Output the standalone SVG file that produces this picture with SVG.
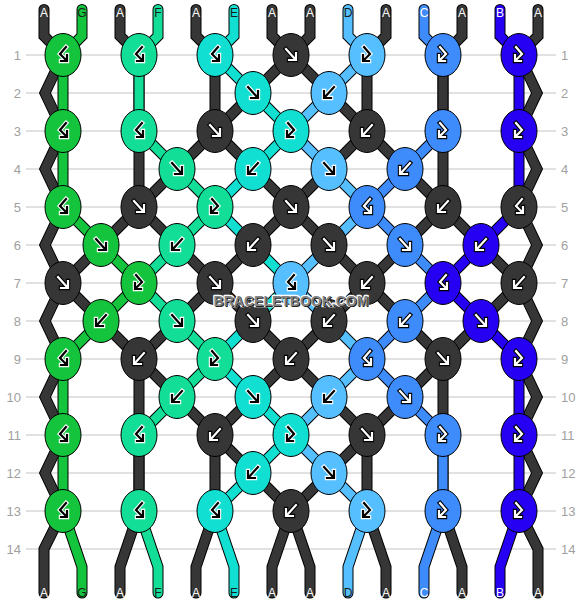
<svg xmlns="http://www.w3.org/2000/svg" xmlns:xlink="http://www.w3.org/1999/xlink" width="582" height="604" viewBox="0 0 582 604">
<style>
.grid line{stroke:#c4c4c4;stroke-width:1}
.rn{font-family:"Liberation Sans",Arial,sans-serif;font-size:13px;fill:#a0a0a0}
.rl{text-anchor:end}
.lb{font-family:"Liberation Sans",Arial,sans-serif;font-size:12px;text-anchor:middle}
.lw{fill:#fff}.lk{fill:#1a1a1a}
.str polyline{fill:none;stroke-linejoin:miter;stroke-linecap:round}
.o{stroke:#000;stroke-width:11}
.i{stroke-width:9}
.sA{stroke:#363636}.sG{stroke:#14c43c}.sF{stroke:#13de98}.sE{stroke:#11dfd1}.sD{stroke:#55bfff}.sC{stroke:#3e8cfb}.sB{stroke:#2500f2}
ellipse{stroke:#000;stroke-width:1}
.kA{fill:#363636}.kG{fill:#14c43c}.kF{fill:#13de98}.kE{fill:#11dfd1}.kD{fill:#55bfff}.kC{fill:#3e8cfb}.kB{fill:#2500f2}
.go{fill:none;stroke-width:4.4;stroke-linecap:square}
.gi{fill:none;stroke:currentColor;stroke-width:2.2;stroke-linecap:square}
.lt{stroke:#fff;color:#000}
.dk{stroke:#000;color:#fff}
.wm text{font-family:"Liberation Sans",Arial,sans-serif;font-size:14px;font-weight:bold;text-anchor:middle}
.wh{fill:#fff;stroke:#fff;stroke-width:2.5;stroke-linejoin:round}
.ws{fill:#222}
.wf{fill:#858585}
</style>
<defs>
<g id="fw"><path class="go" d="M-5,-6L4,4M5,-2V5H-2"/><path class="gi" d="M-5,-6L4,4M5,-2V5H-2"/></g>
<g id="bw"><path class="go" d="M5,-6L-4,4M-5,-2V5H2"/><path class="gi" d="M5,-6L-4,4M-5,-2V5H2"/></g>
<g id="bf"><path class="go" d="M3,-8L-3,-1L3,5M4,0V6H-2"/><path class="gi" d="M3,-8L-3,-1L3,5M4,0V6H-2"/></g>
<g id="fb"><path class="go" d="M-3,-8L3,-1L-3,5M-4,0V6H2"/><path class="gi" d="M-3,-8L3,-1L-3,5M-4,0V6H2"/></g>
</defs>
<g class="grid">
<line x1="26" y1="55" x2="556" y2="55"/><line x1="26" y1="93" x2="556" y2="93"/><line x1="26" y1="131" x2="556" y2="131"/><line x1="26" y1="169" x2="556" y2="169"/><line x1="26" y1="207" x2="556" y2="207"/><line x1="26" y1="245" x2="556" y2="245"/><line x1="26" y1="283" x2="556" y2="283"/><line x1="26" y1="321" x2="556" y2="321"/><line x1="26" y1="359" x2="556" y2="359"/><line x1="26" y1="397" x2="556" y2="397"/><line x1="26" y1="435" x2="556" y2="435"/><line x1="26" y1="473" x2="556" y2="473"/><line x1="26" y1="511" x2="556" y2="511"/><line x1="26" y1="549" x2="556" y2="549"/>
</g>
<g class="rn">
<text class="rl" x="21" y="59.5">1</text><text class="rl" x="21" y="97.5">2</text><text class="rl" x="21" y="135.5">3</text><text class="rl" x="21" y="173.5">4</text><text class="rl" x="21" y="211.5">5</text><text class="rl" x="21" y="249.5">6</text><text class="rl" x="21" y="287.5">7</text><text class="rl" x="21" y="325.5">8</text><text class="rl" x="21" y="363.5">9</text><text class="rl" x="21" y="401.5">10</text><text class="rl" x="21" y="439.5">11</text><text class="rl" x="21" y="477.5">12</text><text class="rl" x="21" y="515.5">13</text><text class="rl" x="21" y="553.5">14</text>
<text x="561" y="59.5">1</text><text x="561" y="97.5">2</text><text x="561" y="135.5">3</text><text x="561" y="173.5">4</text><text x="561" y="211.5">5</text><text x="561" y="249.5">6</text><text x="561" y="287.5">7</text><text x="561" y="325.5">8</text><text x="561" y="363.5">9</text><text x="561" y="401.5">10</text><text x="561" y="439.5">11</text><text x="561" y="477.5">12</text><text x="561" y="515.5">13</text><text x="561" y="553.5">14</text>
</g>
<g id="connectors" class="str">
<defs>
<polyline id="p0" points="44,9.5 44,36 63,55 45,93 63,131 45,169 63,207 45,245 63,283 101,321 139,359 177,397 215,435 253,473 291,511 310,567 310,593"/>
<polyline id="p1" points="82,9.5 82,36 63,55 63,207 101,245 139,283 101,321 63,359 63,511 82,567 82,593"/>
<polyline id="p2" points="120,9.5 120,36 139,55 139,207 177,245 215,283 253,321 291,359 329,397 367,435 367,511 386,567 386,593"/>
<polyline id="p3" points="158,9.5 158,36 139,55 139,131 177,169 215,207 177,245 139,283 177,321 215,359 177,397 139,435 139,511 158,567 158,593"/>
<polyline id="p4" points="196,9.5 196,36 215,55 215,131 253,169 291,207 329,245 367,283 405,321 443,359 443,511 462,567 462,593"/>
<polyline id="p5" points="234,9.5 234,36 215,55 253,93 291,131 253,169 215,207 253,245 291,283 253,321 215,359 253,397 291,435 253,473 215,511 234,567 234,593"/>
<polyline id="p6" points="272,9.5 272,36 291,55 329,93 367,131 405,169 443,207 481,245 519,283 537,321 519,359 537,397 519,435 537,473 519,511 538,549 538,593"/>
<polyline id="p7" points="310,9.5 310,36 291,55 253,93 215,131 177,169 139,207 101,245 63,283 45,321 63,359 45,397 63,435 45,473 63,511 44,549 44,593"/>
<polyline id="p8" points="348,9.5 348,36 367,55 329,93 291,131 329,169 367,207 329,245 291,283 329,321 367,359 329,397 291,435 329,473 367,511 348,567 348,593"/>
<polyline id="p9" points="386,9.5 386,36 367,55 367,131 329,169 291,207 253,245 215,283 177,321 139,359 139,511 120,567 120,593"/>
<polyline id="p10" points="424,9.5 424,36 443,55 443,131 405,169 367,207 405,245 443,283 405,321 367,359 405,397 443,435 443,511 424,567 424,593"/>
<polyline id="p11" points="462,9.5 462,36 443,55 443,207 405,245 367,283 329,321 291,359 253,397 215,435 215,511 196,567 196,593"/>
<polyline id="p12" points="500,9.5 500,36 519,55 519,207 481,245 443,283 481,321 519,359 519,511 500,567 500,593"/>
<polyline id="p13" points="538,9.5 538,36 519,55 537,93 519,131 537,169 519,207 537,245 519,283 481,321 443,359 405,397 367,435 329,473 291,511 272,567 272,593"/>
</defs>
<use xlink:href="#p0" class="o"/><use xlink:href="#p0" class="i sA"/>
<use xlink:href="#p1" class="o"/><use xlink:href="#p1" class="i sG"/>
<use xlink:href="#p2" class="o"/><use xlink:href="#p2" class="i sA"/>
<use xlink:href="#p3" class="o"/><use xlink:href="#p3" class="i sF"/>
<use xlink:href="#p4" class="o"/><use xlink:href="#p4" class="i sA"/>
<use xlink:href="#p5" class="o"/><use xlink:href="#p5" class="i sE"/>
<use xlink:href="#p6" class="o"/><use xlink:href="#p6" class="i sA"/>
<use xlink:href="#p7" class="o"/><use xlink:href="#p7" class="i sA"/>
<use xlink:href="#p8" class="o"/><use xlink:href="#p8" class="i sD"/>
<use xlink:href="#p9" class="o"/><use xlink:href="#p9" class="i sA"/>
<use xlink:href="#p10" class="o"/><use xlink:href="#p10" class="i sC"/>
<use xlink:href="#p11" class="o"/><use xlink:href="#p11" class="i sA"/>
<use xlink:href="#p12" class="o"/><use xlink:href="#p12" class="i sB"/>
<use xlink:href="#p13" class="o"/><use xlink:href="#p13" class="i sA"/>
</g>
<g class="lb">
<text class="lw" x="44" y="17">A</text><text class="lk" x="82" y="17">G</text><text class="lw" x="120" y="17">A</text><text class="lk" x="158" y="17">F</text><text class="lw" x="196" y="17">A</text><text class="lk" x="234" y="17">E</text><text class="lw" x="272" y="17">A</text><text class="lw" x="310" y="17">A</text><text class="lk" x="348" y="17">D</text><text class="lw" x="386" y="17">A</text><text class="lw" x="424" y="17">C</text><text class="lw" x="462" y="17">A</text><text class="lw" x="500" y="17">B</text><text class="lw" x="538" y="17">A</text>
<text class="lw" x="44" y="597">A</text><text class="lk" x="82" y="597">G</text><text class="lw" x="120" y="597">A</text><text class="lk" x="158" y="597">F</text><text class="lw" x="196" y="597">A</text><text class="lk" x="234" y="597">E</text><text class="lw" x="272" y="597">A</text><text class="lw" x="310" y="597">A</text><text class="lk" x="348" y="597">D</text><text class="lw" x="386" y="597">A</text><text class="lw" x="424" y="597">C</text><text class="lw" x="462" y="597">A</text><text class="lw" x="500" y="597">B</text><text class="lw" x="538" y="597">A</text>
</g>
<g id="knots">
<g id="k1-1" transform="translate(63,55)"><ellipse class="kG" rx="18" ry="21.5"/><use xlink:href="#bf" class="lt"/></g>
<g id="k1-2" transform="translate(139,55)"><ellipse class="kF" rx="18" ry="21.5"/><use xlink:href="#bf" class="lt"/></g>
<g id="k1-3" transform="translate(215,55)"><ellipse class="kE" rx="18" ry="21.5"/><use xlink:href="#bf" class="lt"/></g>
<g id="k1-4" transform="translate(291,55)"><ellipse class="kA" rx="18" ry="21.5"/><use xlink:href="#fw" class="dk"/></g>
<g id="k1-5" transform="translate(367,55)"><ellipse class="kD" rx="18" ry="21.5"/><use xlink:href="#fb" class="lt"/></g>
<g id="k1-6" transform="translate(443,55)"><ellipse class="kC" rx="18" ry="21.5"/><use xlink:href="#fb" class="dk"/></g>
<g id="k1-7" transform="translate(519,55)"><ellipse class="kB" rx="18" ry="21.5"/><use xlink:href="#fb" class="dk"/></g>
<g id="k2-3" transform="translate(253,93)"><ellipse class="kE" rx="18" ry="21.5"/><use xlink:href="#fw" class="lt"/></g>
<g id="k2-4" transform="translate(329,93)"><ellipse class="kD" rx="18" ry="21.5"/><use xlink:href="#bw" class="lt"/></g>
<g id="k3-1" transform="translate(63,131)"><ellipse class="kG" rx="18" ry="21.5"/><use xlink:href="#bf" class="lt"/></g>
<g id="k3-2" transform="translate(139,131)"><ellipse class="kF" rx="18" ry="21.5"/><use xlink:href="#bf" class="lt"/></g>
<g id="k3-3" transform="translate(215,131)"><ellipse class="kA" rx="18" ry="21.5"/><use xlink:href="#fw" class="dk"/></g>
<g id="k3-4" transform="translate(291,131)"><ellipse class="kE" rx="18" ry="21.5"/><use xlink:href="#fb" class="lt"/></g>
<g id="k3-5" transform="translate(367,131)"><ellipse class="kA" rx="18" ry="21.5"/><use xlink:href="#bw" class="dk"/></g>
<g id="k3-6" transform="translate(443,131)"><ellipse class="kC" rx="18" ry="21.5"/><use xlink:href="#fb" class="dk"/></g>
<g id="k3-7" transform="translate(519,131)"><ellipse class="kB" rx="18" ry="21.5"/><use xlink:href="#fb" class="dk"/></g>
<g id="k4-2" transform="translate(177,169)"><ellipse class="kF" rx="18" ry="21.5"/><use xlink:href="#fw" class="lt"/></g>
<g id="k4-3" transform="translate(253,169)"><ellipse class="kE" rx="18" ry="21.5"/><use xlink:href="#bw" class="lt"/></g>
<g id="k4-4" transform="translate(329,169)"><ellipse class="kD" rx="18" ry="21.5"/><use xlink:href="#fw" class="lt"/></g>
<g id="k4-5" transform="translate(405,169)"><ellipse class="kC" rx="18" ry="21.5"/><use xlink:href="#bw" class="dk"/></g>
<g id="k5-1" transform="translate(63,207)"><ellipse class="kG" rx="18" ry="21.5"/><use xlink:href="#bf" class="lt"/></g>
<g id="k5-2" transform="translate(139,207)"><ellipse class="kA" rx="18" ry="21.5"/><use xlink:href="#fw" class="dk"/></g>
<g id="k5-3" transform="translate(215,207)"><ellipse class="kF" rx="18" ry="21.5"/><use xlink:href="#fb" class="lt"/></g>
<g id="k5-4" transform="translate(291,207)"><ellipse class="kA" rx="18" ry="21.5"/><use xlink:href="#fw" class="dk"/></g>
<g id="k5-5" transform="translate(367,207)"><ellipse class="kC" rx="18" ry="21.5"/><use xlink:href="#bf" class="dk"/></g>
<g id="k5-6" transform="translate(443,207)"><ellipse class="kA" rx="18" ry="21.5"/><use xlink:href="#bw" class="dk"/></g>
<g id="k5-7" transform="translate(519,207)"><ellipse class="kA" rx="18" ry="21.5"/><use xlink:href="#bf" class="dk"/></g>
<g id="k6-1" transform="translate(101,245)"><ellipse class="kG" rx="18" ry="21.5"/><use xlink:href="#fw" class="lt"/></g>
<g id="k6-2" transform="translate(177,245)"><ellipse class="kF" rx="18" ry="21.5"/><use xlink:href="#bw" class="lt"/></g>
<g id="k6-3" transform="translate(253,245)"><ellipse class="kA" rx="18" ry="21.5"/><use xlink:href="#bw" class="dk"/></g>
<g id="k6-4" transform="translate(329,245)"><ellipse class="kA" rx="18" ry="21.5"/><use xlink:href="#fw" class="dk"/></g>
<g id="k6-5" transform="translate(405,245)"><ellipse class="kC" rx="18" ry="21.5"/><use xlink:href="#fw" class="dk"/></g>
<g id="k6-6" transform="translate(481,245)"><ellipse class="kB" rx="18" ry="21.5"/><use xlink:href="#bw" class="dk"/></g>
<g id="k7-1" transform="translate(63,283)"><ellipse class="kA" rx="18" ry="21.5"/><use xlink:href="#fw" class="dk"/></g>
<g id="k7-2" transform="translate(139,283)"><ellipse class="kG" rx="18" ry="21.5"/><use xlink:href="#fb" class="lt"/></g>
<g id="k7-3" transform="translate(215,283)"><ellipse class="kA" rx="18" ry="21.5"/><use xlink:href="#fw" class="dk"/></g>
<g id="k7-4" transform="translate(291,283)"><ellipse class="kD" rx="18" ry="21.5"/><use xlink:href="#bf" class="lt"/></g>
<g id="k7-5" transform="translate(367,283)"><ellipse class="kA" rx="18" ry="21.5"/><use xlink:href="#bw" class="dk"/></g>
<g id="k7-6" transform="translate(443,283)"><ellipse class="kB" rx="18" ry="21.5"/><use xlink:href="#bf" class="dk"/></g>
<g id="k7-7" transform="translate(519,283)"><ellipse class="kA" rx="18" ry="21.5"/><use xlink:href="#bw" class="dk"/></g>
<g id="k8-1" transform="translate(101,321)"><ellipse class="kG" rx="18" ry="21.5"/><use xlink:href="#bw" class="lt"/></g>
<g id="k8-2" transform="translate(177,321)"><ellipse class="kF" rx="18" ry="21.5"/><use xlink:href="#fw" class="lt"/></g>
<g id="k8-3" transform="translate(253,321)"><ellipse class="kA" rx="18" ry="21.5"/><use xlink:href="#fw" class="dk"/></g>
<g id="k8-4" transform="translate(329,321)"><ellipse class="kA" rx="18" ry="21.5"/><use xlink:href="#bw" class="dk"/></g>
<g id="k8-5" transform="translate(405,321)"><ellipse class="kC" rx="18" ry="21.5"/><use xlink:href="#bw" class="dk"/></g>
<g id="k8-6" transform="translate(481,321)"><ellipse class="kB" rx="18" ry="21.5"/><use xlink:href="#fw" class="dk"/></g>
<g id="k9-1" transform="translate(63,359)"><ellipse class="kG" rx="18" ry="21.5"/><use xlink:href="#bf" class="lt"/></g>
<g id="k9-2" transform="translate(139,359)"><ellipse class="kA" rx="18" ry="21.5"/><use xlink:href="#bw" class="dk"/></g>
<g id="k9-3" transform="translate(215,359)"><ellipse class="kF" rx="18" ry="21.5"/><use xlink:href="#fb" class="lt"/></g>
<g id="k9-4" transform="translate(291,359)"><ellipse class="kA" rx="18" ry="21.5"/><use xlink:href="#bw" class="dk"/></g>
<g id="k9-5" transform="translate(367,359)"><ellipse class="kC" rx="18" ry="21.5"/><use xlink:href="#bf" class="dk"/></g>
<g id="k9-6" transform="translate(443,359)"><ellipse class="kA" rx="18" ry="21.5"/><use xlink:href="#fw" class="dk"/></g>
<g id="k9-7" transform="translate(519,359)"><ellipse class="kB" rx="18" ry="21.5"/><use xlink:href="#fb" class="dk"/></g>
<g id="k10-2" transform="translate(177,397)"><ellipse class="kF" rx="18" ry="21.5"/><use xlink:href="#bw" class="lt"/></g>
<g id="k10-3" transform="translate(253,397)"><ellipse class="kE" rx="18" ry="21.5"/><use xlink:href="#fw" class="lt"/></g>
<g id="k10-4" transform="translate(329,397)"><ellipse class="kD" rx="18" ry="21.5"/><use xlink:href="#bw" class="lt"/></g>
<g id="k10-5" transform="translate(405,397)"><ellipse class="kC" rx="18" ry="21.5"/><use xlink:href="#fw" class="dk"/></g>
<g id="k11-1" transform="translate(63,435)"><ellipse class="kG" rx="18" ry="21.5"/><use xlink:href="#bf" class="lt"/></g>
<g id="k11-2" transform="translate(139,435)"><ellipse class="kF" rx="18" ry="21.5"/><use xlink:href="#bf" class="lt"/></g>
<g id="k11-3" transform="translate(215,435)"><ellipse class="kA" rx="18" ry="21.5"/><use xlink:href="#bw" class="dk"/></g>
<g id="k11-4" transform="translate(291,435)"><ellipse class="kE" rx="18" ry="21.5"/><use xlink:href="#fb" class="lt"/></g>
<g id="k11-5" transform="translate(367,435)"><ellipse class="kA" rx="18" ry="21.5"/><use xlink:href="#fw" class="dk"/></g>
<g id="k11-6" transform="translate(443,435)"><ellipse class="kC" rx="18" ry="21.5"/><use xlink:href="#fb" class="dk"/></g>
<g id="k11-7" transform="translate(519,435)"><ellipse class="kB" rx="18" ry="21.5"/><use xlink:href="#fb" class="dk"/></g>
<g id="k12-3" transform="translate(253,473)"><ellipse class="kE" rx="18" ry="21.5"/><use xlink:href="#bw" class="lt"/></g>
<g id="k12-4" transform="translate(329,473)"><ellipse class="kD" rx="18" ry="21.5"/><use xlink:href="#fw" class="lt"/></g>
<g id="k13-1" transform="translate(63,511)"><ellipse class="kG" rx="18" ry="21.5"/><use xlink:href="#bf" class="lt"/></g>
<g id="k13-2" transform="translate(139,511)"><ellipse class="kF" rx="18" ry="21.5"/><use xlink:href="#bf" class="lt"/></g>
<g id="k13-3" transform="translate(215,511)"><ellipse class="kE" rx="18" ry="21.5"/><use xlink:href="#bf" class="lt"/></g>
<g id="k13-4" transform="translate(291,511)"><ellipse class="kA" rx="18" ry="21.5"/><use xlink:href="#bw" class="dk"/></g>
<g id="k13-5" transform="translate(367,511)"><ellipse class="kD" rx="18" ry="21.5"/><use xlink:href="#fb" class="lt"/></g>
<g id="k13-6" transform="translate(443,511)"><ellipse class="kC" rx="18" ry="21.5"/><use xlink:href="#fb" class="dk"/></g>
<g id="k13-7" transform="translate(519,511)"><ellipse class="kB" rx="18" ry="21.5"/><use xlink:href="#fb" class="dk"/></g>
</g>
<g class="wm">
<text class="wh" x="291" y="306">BRACELETBOOK.COM</text>
<text class="ws" x="292" y="307">BRACELETBOOK.COM</text>
<text class="wf" x="291" y="306">BRACELETBOOK.COM</text>
</g>
</svg>
